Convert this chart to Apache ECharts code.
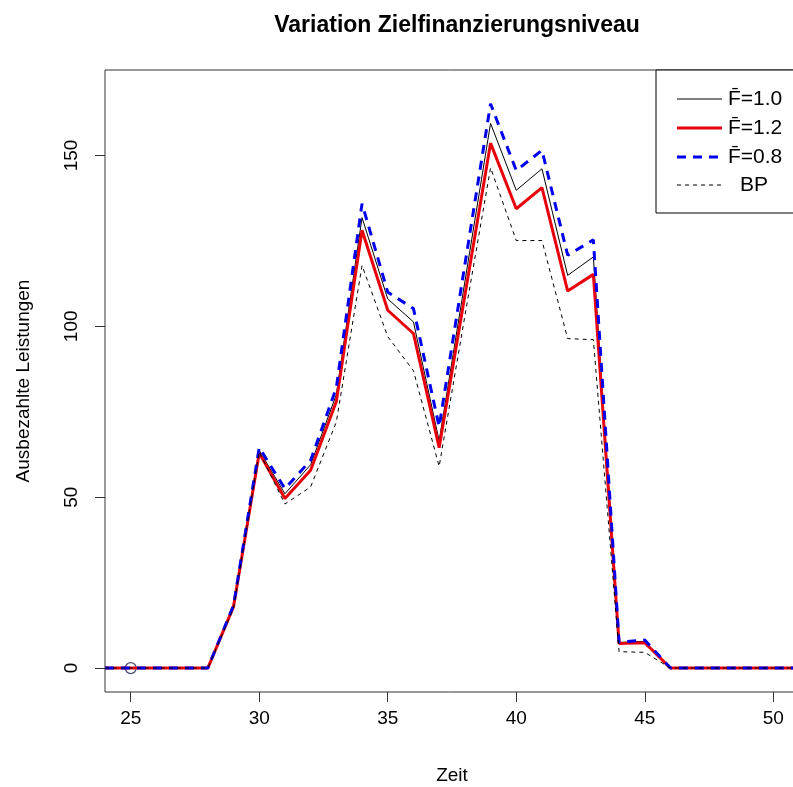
<!DOCTYPE html>
<html>
<head>
<meta charset="utf-8">
<script src="https://cdn.jsdelivr.net/npm/echarts@6/dist/echarts.min.js"></script>
<style>
html,body{margin:0;padding:0;background:#fff;}
#chart{width:793px;height:787px;}
</style>
</head>
<body>
<div id="chart"></div>
<script>
// Data
const zeit = [24,25,26,27,28,29,30,31,32,33,34,35,36,37,38,39,40,41,42,43,44,45,46,47,48,49,50,51];
const f10 = [0,0,0,0,0,18,63.7,51,59.5,80,131.8,108,101.3,66.5,113,159.4,139.8,146.1,114.9,120.3,7.5,7.8,0,0,0,0,0,0];
const f12 = [0,0,0,0,0,18,62.9,49.6,57.9,78,128.1,104.7,97.9,64.5,109,153.6,134.4,140.6,110.3,115.2,7.2,7.4,0,0,0,0,0,0];
const f08 = [0,0,0,0,0,18.3,64.5,52.5,60.8,82,135.9,110,105.2,70.6,118,165.1,145.6,151.5,120.8,125.3,7.6,8.2,0,0,0,0,0,0];
const bp  = [0,0,0,0,0,17.5,63.3,48,53,72,117.8,97,87,59,103,146.4,125.1,125.1,96.4,96.1,4.8,4.6,0,0,0,0,0,0];
const marker = [[25,0]];
const xTicks = [25,30,35,40,45,50];
const yTicks = [0,50,100,150];
const legendLabels = ['F\u0304=1.0','F\u0304=1.2','F\u0304=0.8','BP'];

const pairs = ys => zeit.map((x,i)=>[x, ys[i]]);
const FONT = 'Liberation Sans, Arial, Helvetica, sans-serif';

const chart = echarts.init(document.getElementById('chart'), null, {renderer:'canvas'});

const legendRows = [
  {label: legendLabels[0], color:'#000', width:1, type:'solid'},
  {label: legendLabels[1], color:'#e8000b', width:3, type:'solid'},
  {label: legendLabels[2], color:'#0000ee', width:3, type:[9,7]},
  {label: legendLabels[3], color:'#000', width:1, type:[4,4]}
];
const legendGraphics = [{
  type:'rect', shape:{x:656,y:70,width:200,height:143},
  style:{fill:'#fff', stroke:'#000', lineWidth:1}, z:10
}];
const rowY = [99,128,157,185];
legendRows.forEach((r,i)=>{
  legendGraphics.push({
    type:'line', shape:{x1:677,y1:rowY[i],x2:722,y2:rowY[i]},
    style:{stroke:r.color, lineWidth:r.width, lineDash: r.type==='solid'?null:r.type}, z:11
  });
  legendGraphics.push({
    type:'text', x: i===3?740:728, y:rowY[i],
    style:{text:r.label, font:'21px '+FONT, fill:'#000', verticalAlign:'middle'}, z:11
  });
});

const option = {
  backgroundColor:'#fff',
  animation:false,
  title:{
    text:'Variation Zielfinanzierungsniveau',
    left:452, top:9, textAlign:'center',
    textStyle:{fontFamily:FONT, fontWeight:'bold', fontSize:23, color:'#000'}
  },
  grid:{left:105, top:70, width:694, height:622, outerBoundsMode:'none', containLabel:false,
        show:true, borderColor:'#333', borderWidth:1, backgroundColor:'transparent'},
  xAxis:{
    type:'value', min:24, max:51,
    name:'Zeit', nameLocation:'middle', nameGap:74,
    nameTextStyle:{fontFamily:FONT, fontSize:19, color:'#000'},
    axisLine:{show:false, onZero:false},
    splitLine:{show:false},
    axisTick:{show:true, length:10, lineStyle:{color:'#333'}, customValues:xTicks},
    axisLabel:{fontFamily:FONT, fontSize:19, color:'#000', margin:17, customValues:xTicks}
  },
  yAxis:{
    type:'value', min:-7, max:175,
    name:'Ausbezahlte Leistungen', nameLocation:'middle', nameGap:72,
    nameTextStyle:{fontFamily:FONT, fontSize:19, color:'#000'},
    axisLine:{show:false, onZero:false},
    splitLine:{show:false},
    axisTick:{show:true, length:10, lineStyle:{color:'#333'}, customValues:yTicks},
    axisLabel:{fontFamily:FONT, fontSize:19, color:'#000', margin:24, rotate:90, customValues:yTicks}
  },
  graphic: legendGraphics,
  series:[
    {type:'scatter', data:marker, symbol:'circle', symbolSize:11, itemStyle:{color:'rgba(0,0,0,0)', borderColor:'#1c1c4a', borderWidth:1.3}, z:1},
    {type:'line', name:legendLabels[0], data:pairs(f10), showSymbol:false, symbol:'none', lineStyle:{color:'#000', width:1}, z:2},
    {type:'line', name:legendLabels[1], data:pairs(f12), showSymbol:false, symbol:'none', lineStyle:{color:'#e8000b', width:3}, z:3},
    {type:'line', name:legendLabels[2], data:pairs(f08), showSymbol:false, symbol:'none', lineStyle:{color:'#0000ee', width:3, type:[9,7]}, z:4},
    {type:'line', name:legendLabels[3], data:pairs(bp), showSymbol:false, symbol:'none', lineStyle:{color:'#000', width:1, type:[4,4]}, z:5}
  ]
};
chart.setOption(option);
</script>
</body>
</html>
